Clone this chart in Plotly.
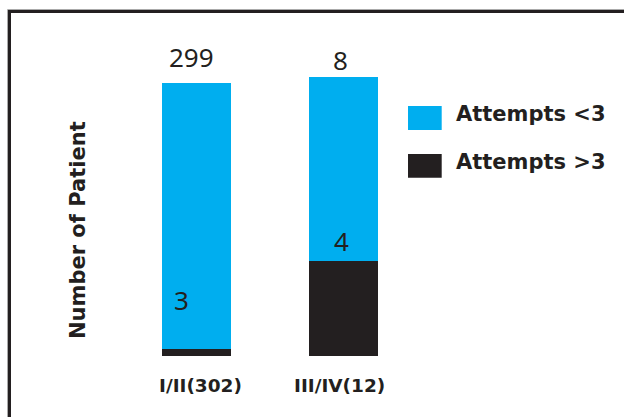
import plotly.graph_objects as go

# ---- data ----
categories = ["I/II(302)", "III/IV(12)"]
series_names = ["Attempts <3", "Attempts >3"]
counts_lt3 = [299, 8]          # labels shown on the chart
counts_gt3 = [3, 4]
height_lt3 = [97.5, 67.4]      # drawn bar heights
height_gt3 = [2.5, 34.8]

BLUE = "#00aeef"
DARK = "#231f20"

x_pos = list(range(len(categories)))

fig = go.Figure()
fig.add_trace(go.Bar(x=x_pos, y=height_gt3, name=series_names[1],
                     marker=dict(color=DARK, line=dict(width=0)), width=0.469,
                     hoverinfo="skip"))
fig.add_trace(go.Bar(x=x_pos, y=height_lt3, name=series_names[0],
                     marker=dict(color=BLUE, line=dict(width=0)), width=0.469,
                     hoverinfo="skip"))

num_font = dict(family="Noto Sans", size=26, color=DARK)
ann = []
# top labels (counts <3)
top_shift = [(-5.5, 26), (-3.5, 16.5)]
for i in x_pos:
    tot = height_lt3[i] + height_gt3[i]
    ann.append(dict(x=i, y=tot, xref="x", yref="y", text=str(counts_lt3[i]),
                    showarrow=False, font=num_font, xshift=top_shift[i][0],
                    yshift=top_shift[i][1], yanchor="middle"))
# inner labels (counts >3)
in_shift = [(-15, 49), (-2.5, 20)]
for i in x_pos:
    ann.append(dict(x=i, y=height_gt3[i], xref="x", yref="y", text=str(counts_gt3[i]),
                    showarrow=False, font=num_font, xshift=in_shift[i][0],
                    yshift=in_shift[i][1], yanchor="middle"))
# category labels
cat_shift = [3.5, -4.5]
for i in x_pos:
    ann.append(dict(x=i, y=0, xref="x", yref="paper", text="<b>%s</b>" % categories[i],
                    showarrow=False, yanchor="middle", yshift=-29, xshift=cat_shift[i],
                    font=dict(family="DejaVu Sans", size=18.5, color=DARK)))
# y title
ann.append(dict(x=-0.0733, y=0.42, xref="paper", yref="paper",
                text="<b>Number of Patient</b>", textangle=-90, showarrow=False,
                xanchor="center", yanchor="middle",
                font=dict(family="DejaVu Sans", size=21, color=DARK)))
# legend texts
leg_y = [0.8067, 0.6467]
leg_names = [series_names[0], series_names[1]]
for name, yy in zip(leg_names, leg_y):
    ann.append(dict(x=1.18, y=yy, xref="paper", yref="paper", text="<b>%s</b>" % name,
                    showarrow=False, xanchor="left", yanchor="middle",
                    font=dict(family="DejaVu Sans", size=21, color=DARK)))

shapes = [
    dict(type="rect", xref="paper", yref="paper", x0=1.0267, x1=1.139, y0=0.7533, y1=0.8333,
         fillcolor=BLUE, line=dict(width=0)),
    dict(type="rect", xref="paper", yref="paper", x0=1.0267, x1=1.139, y0=0.5943, y1=0.6733,
         fillcolor=DARK, line=dict(width=0)),
    # frame (gray outer, dark inner)
    dict(type="rect", xref="paper", yref="paper", x0=(7.5 - 100) / 300, x1=(640 - 100) / 300,
         y0=(356 - 440) / 300, y1=(356 - 9.5) / 300, line=dict(color="#aaaaaa", width=1)),
    dict(type="rect", xref="paper", yref="paper", x0=(9.5 - 100) / 300, x1=(640 - 100) / 300,
         y0=(356 - 440) / 300, y1=(356 - 11.5) / 300, line=dict(color=DARK, width=3)),
]

fig.update_layout(
    barmode="stack",
    width=624, height=417,
    margin=dict(l=100, r=224, t=56, b=61),
    paper_bgcolor="white", plot_bgcolor="white",
    showlegend=False,
    xaxis=dict(range=[-0.6565, 1.3844], showticklabels=False, showgrid=False,
               zeroline=False, showline=False, fixedrange=True),
    yaxis=dict(range=[0, 300 / 2.73], showticklabels=False, showgrid=False,
               zeroline=False, showline=False, fixedrange=True),
    annotations=ann,
    shapes=shapes,
)

fig.write_html("out.html")
